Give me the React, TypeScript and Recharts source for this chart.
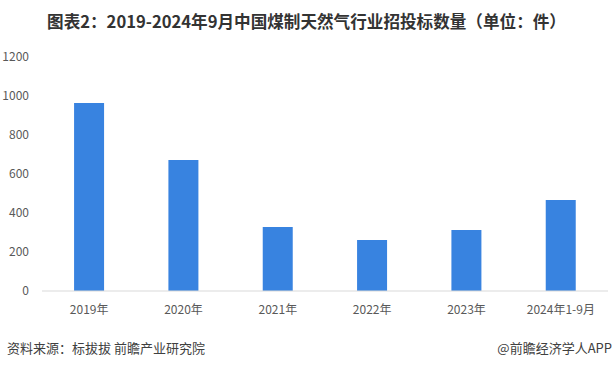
import React from 'react';
import { BarChart, Bar, XAxis, YAxis } from 'recharts';

const categories = ['2019年', '2020年', '2021年', '2022年', '2023年', '2024年1-9月'];
const counts = [964, 672, 328, 262, 313, 467];
const yTicks = [0, 200, 400, 600, 800, 1000, 1200];

const title = '图表2：2019-2024年9月中国煤制天然气行业招投标数量（单位：件）';
const sourceText = '资料来源：标拔拔 前瞻产业研究院';
const brandText = '@前瞻经济学人APP';

const data = categories.map((c, i) => ({ name: c, value: counts[i] }));

const FONT = '"Noto Sans CJK SC", "Noto Sans", sans-serif';

export default function App() {
  return (
    <div
      style={{
        position: 'absolute',
        left: 0,
        top: 0,
        width: 613,
        height: 368,
        background: '#ffffff',
        fontFamily: FONT,
        overflow: 'hidden',
      }}
    >
      <div
        style={{
          position: 'absolute',
          left: 0,
          top: 9,
          width: 613,
          textAlign: 'center',
          fontSize: 16.6,
          fontWeight: 'bold',
          color: '#333333',
          lineHeight: '24px',
          whiteSpace: 'nowrap',
        }}
      >
        {title}
      </div>
      <BarChart
        width={613}
        height={368}
        data={data}
        margin={{ top: 57, right: 5, bottom: 47, left: 8 }}
        barCategoryGap="34%"
      >
        <XAxis
          dataKey="name"
          tickLine={false}
          axisLine={{ stroke: '#d9d9d9', strokeWidth: 1 }}
          tick={{ fill: '#595959', fontSize: 12, fontFamily: FONT }}
          tickMargin={8}
          interval={0}
          height={30}
        />
        <YAxis
          domain={[0, 1200]}
          ticks={yTicks}
          tickLine={false}
          axisLine={false}
          tick={{ fill: '#595959', fontSize: 12, fontFamily: FONT }}
          tickMargin={7}
          width={34}
          interval={0}
        />
        <Bar dataKey="value" fill="#3883e0" isAnimationActive={false} />
      </BarChart>
      <div
        style={{
          position: 'absolute',
          left: 7,
          top: 338,
          fontSize: 13,
          color: '#404040',
          lineHeight: '20px',
          whiteSpace: 'nowrap',
        }}
      >
        {sourceText}
      </div>
      <div
        style={{
          position: 'absolute',
          right: 1,
          top: 338,
          fontSize: 13,
          color: '#404040',
          lineHeight: '20px',
          whiteSpace: 'nowrap',
        }}
      >
        {brandText}
      </div>
    </div>
  );
}
